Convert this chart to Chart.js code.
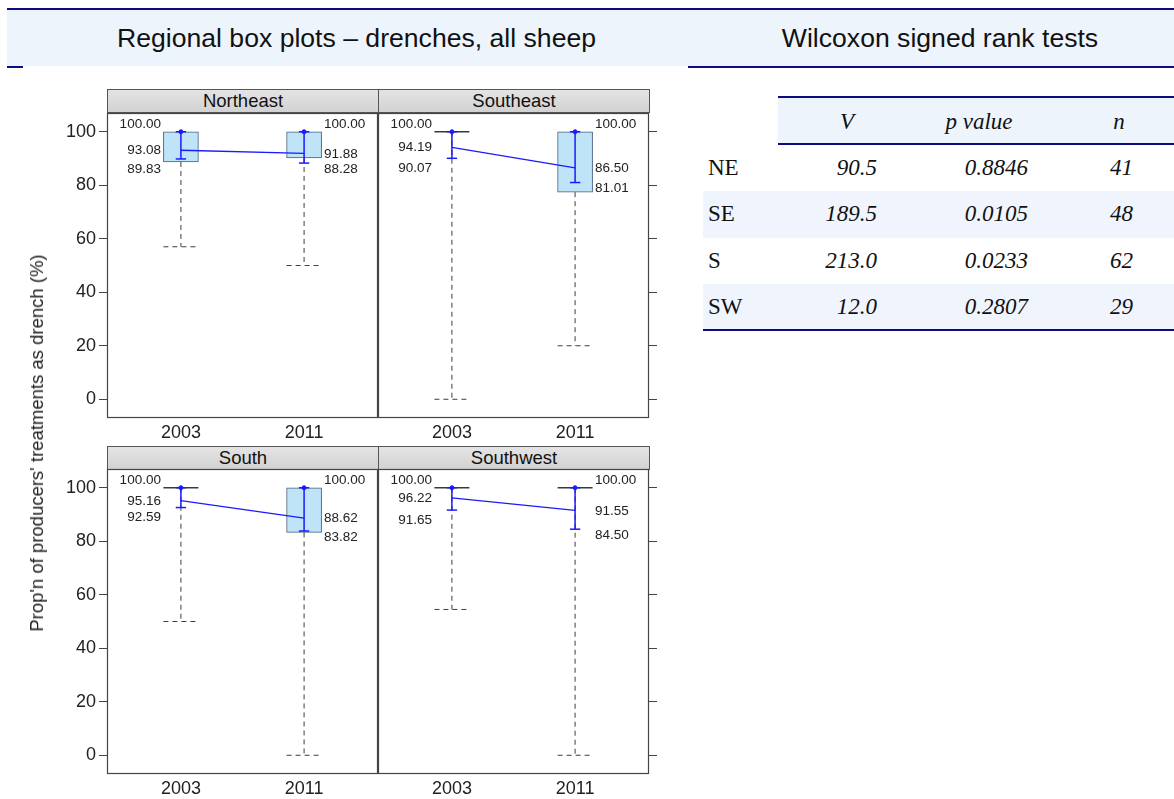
<!DOCTYPE html>
<html>
<head>
<meta charset="utf-8">
<script src="https://cdn.jsdelivr.net/npm/chart.js@4/dist/chart.umd.min.js"></script>
<style>
  html, body { margin: 0; padding: 0; background: #fff; }
  body { width: 1174px; height: 799px; position: relative; overflow: hidden;
         font-family: "Liberation Sans", Arial, sans-serif; color: #111; }
  .abs { position: absolute; }
  .band { position: absolute; top: 10px; height: 56px; background: #eef4fc; box-sizing: border-box;
          padding-left: 18px; font-size: 26.6px; line-height: 56px; text-align: center; color: #111; }
  .navy { position: absolute; background: #0c0c80; height: 2px; }
  .strip { position: absolute; height: 22px; border: 1px solid #555; box-sizing: content-box;
           background: linear-gradient(#e4e4e4, #d2d2d2); font-size: 18.5px; line-height: 22px;
           text-align: center; color: #111; }
  canvas { position: absolute; }
  .ylab { position: absolute; left: 37px; top: 443px; white-space: nowrap; font-size: 18.5px;
          color: #222; transform: translate(-50%, -50%) rotate(-90deg); }
  .tcell { position: absolute; white-space: nowrap; font-family: "Liberation Serif", "Times New Roman", serif;
           font-size: 23px; color: #111; }
  .it { font-style: italic; }
</style>
</head>
<body>

<div class="band" style="left:7px; width:681px;">Regional box plots – drenches, all sheep</div>
<div class="band" style="left:688px; width:486px;">Wilcoxon signed rank tests</div>
<div class="navy" style="left:7px; top:8px; width:1167px;"></div>
<div class="navy" style="left:7px; top:66px; width:16px;"></div>
<div class="navy" style="left:688px; top:66px; width:486px;"></div>

<div class="strip" style="left:107px; top:89px; width:270px;">Northeast</div>
<div class="strip" style="left:378px; top:89px; width:270px;">Southeast</div>
<div class="strip" style="left:107px; top:446px; width:270px;">South</div>
<div class="strip" style="left:378px; top:446px; width:270px;">Southwest</div>

<canvas id="p0" width="350" height="340" style="left:30px; top:110px;"></canvas>
<canvas id="p1" width="300" height="340" style="left:376px; top:110px;"></canvas>
<canvas id="p2" width="350" height="340" style="left:30px; top:466px;"></canvas>
<canvas id="p3" width="300" height="340" style="left:376px; top:466px;"></canvas>

<div class="ylab">Prop'n of producers' treatments as drench (%)</div>

<div id="table"></div>

<script>
// panels: Northeast, Southeast, South, Southwest; each inner pair is [2003, 2011]
const regions = ['Northeast', 'Southeast', 'South', 'Southwest'];
const years = ['2003', '2011'];

// box hinges and lower whisker ends (upper whisker ends at 100 everywhere)
const boxLow = [[88.7, 90.2], [100, 77.4], [100, 83.3], [100, 100]];
const boxHigh = [[100, 100], [100, 100], [100, 100], [100, 100]];
const whiskerLow = [[57, 50], [0, 20], [50, 0], [54.5, 0]];

// blue interval: upper end, centre, lower end
const upper = [[100.00, 100.00], [100.00, 100.00], [100.00, 100.00], [100.00, 100.00]];
const centre = [[93.08, 91.88], [94.19, 86.50], [95.16, 88.62], [96.22, 91.55]];
const lower = [[89.83, 88.28], [90.07, 81.01], [92.59, 83.82], [91.65, 84.50]];

// Wilcoxon signed rank tests
const testRegions = ['NE', 'SE', 'S', 'SW'];
const statV = [90.5, 189.5, 213.0, 12.0];
const pValues = [0.8846, 0.0105, 0.0233, 0.2807];
const nObs = [41, 48, 62, 29];

const yTicks = [0, 20, 40, 60, 80, 100];

Chart.defaults.font.family = '"Liberation Sans", Arial, sans-serif';
Chart.defaults.color = '#222';

const BLUE = '#1a1aff';
const boxHalf = 0.142;
const capHalf = 0.042;

function seg(x1, y1, x2, y2, color, width, dash, order) {
  return {
    type: 'line',
    data: [{x: x1, y: y1}, {x: x2, y: y2}],
    borderColor: color,
    borderWidth: width,
    borderDash: dash || [],
    pointRadius: 0,
    fill: false,
    order: order
  };
}

function noPad(s) {
  s.paddingLeft = 0;
  s.paddingRight = 0;
  s.paddingTop = 0;
  s.paddingBottom = 0;
}

const panelBox = {
  id: 'panelBox',
  afterDraw(chart) {
    const {ctx, chartArea: a} = chart;
    ctx.save();
    ctx.strokeStyle = '#444';
    ctx.lineWidth = 1.2;
    ctx.strokeRect(a.left + 0.5, a.top + 0.5, a.right - a.left - 1, a.bottom - a.top - 1);
    ctx.restore();
  }
};

const valueLabels = {
  id: 'valueLabels',
  afterDatasetsDraw(chart, args, opts) {
    const {ctx, scales: {x, y}} = chart;
    const r = opts.region;
    ctx.save();
    ctx.font = '13.5px "Liberation Sans", Arial, sans-serif';
    ctx.fillStyle = '#222';
    ctx.textBaseline = 'middle';
    [0, 1].forEach(i => {
      const first = i === 0;
      const px = x.getPixelForValue(i + 1);
      const tx = first ? px - 20 : px + 20;
      ctx.textAlign = first ? 'right' : 'left';
      ctx.fillText(upper[r][i].toFixed(2), tx, y.getPixelForValue(upper[r][i]) - 7);
      ctx.fillText(centre[r][i].toFixed(2), tx, y.getPixelForValue(centre[r][i]) + 0.5);
      ctx.fillText(lower[r][i].toFixed(2), tx, y.getPixelForValue(lower[r][i]) + (first ? 10 : 6));
    });
    ctx.restore();
  }
};

function makePanel(r) {
  const isLeft = r % 2 === 0;
  const datasets = [];

  // line joining the two centre values
  datasets.push({
    type: 'line',
    data: [{x: 1, y: centre[r][0]}, {x: 2, y: centre[r][1]}],
    borderColor: BLUE, borderWidth: 1.3, pointRadius: 0, fill: false, order: 0
  });

  const boxes = [];
  [0, 1].forEach(i => {
    const xv = i + 1;
    // blue interval with caps and a dot at the top
    datasets.push(seg(xv, lower[r][i], xv, upper[r][i], BLUE, 1.5, null, 1));
    datasets.push(seg(xv - capHalf, lower[r][i], xv + capHalf, lower[r][i], BLUE, 1.5, null, 1));
    datasets.push(seg(xv - capHalf, upper[r][i], xv + capHalf, upper[r][i], BLUE, 1.5, null, 1));
    datasets.push({
      type: 'line', data: [{x: xv, y: upper[r][i]}], pointRadius: 2,
      pointBackgroundColor: BLUE, pointBorderColor: BLUE, showLine: false, order: 1
    });

    // dashed whisker and its cap
    datasets.push(seg(xv, boxLow[r][i], xv, whiskerLow[r][i], '#3d3d3d', 1, [5, 4], 3));
    datasets.push(seg(xv - boxHalf, whiskerLow[r][i], xv + boxHalf, whiskerLow[r][i], '#3d3d3d', 1, [5, 4], 3));

    if (boxLow[r][i] === boxHigh[r][i]) {
      datasets.push(seg(xv - boxHalf, boxHigh[r][i], xv + boxHalf, boxHigh[r][i], '#3a3a3a', 1.3, null, 2));
    } else {
      boxes.push({x: xv, y: [boxLow[r][i], boxHigh[r][i]]});
    }
  });

  datasets.push({
    type: 'bar',
    data: boxes,
    backgroundColor: '#bfe4f8',
    borderColor: '#45617f',
    borderWidth: 1,
    borderSkipped: false,
    barThickness: 35,
    order: 5
  });

  return new Chart(document.getElementById('p' + r), {
    type: 'bar',
    data: {datasets},
    plugins: [panelBox, valueLabels],
    options: {
      responsive: false,
      animation: false,
      devicePixelRatio: 1,
      layout: {
        autoPadding: false,
        padding: isLeft ? {left: 0, right: 2, top: 3, bottom: 0} : {left: 2, right: 0, top: 3, bottom: 0}
      },
      plugins: {
        legend: {display: false},
        tooltip: {enabled: false},
        valueLabels: {region: r}
      },
      scales: {
        x: {
          type: 'linear', min: 0.4, max: 2.6, offset: false,
          grid: {display: false, drawTicks: false, offset: false},
          border: {display: false},
          afterBuildTicks: s => { s.ticks = [{value: 1}, {value: 2}]; },
          afterFit: s => { s.height = 32; noPad(s); },
          ticks: {
            autoSkip: false, maxRotation: 0, padding: 4,
            font: {size: 18}, color: '#222',
            callback: (v, i) => years[i]
          }
        },
        y: {
          type: 'linear', min: -7, max: 107,
          position: isLeft ? 'left' : 'right',
          grid: {drawOnChartArea: false, drawTicks: true, tickLength: 8, color: '#444'},
          border: {display: false},
          afterBuildTicks: s => { s.ticks = yTicks.map(v => ({value: v})); },
          afterFit: s => { s.width = isLeft ? 77 : 27; noPad(s); },
          ticks: {display: isLeft, padding: 3, font: {size: 18}, color: '#222'}
        }
      }
    }
  });
}

regions.forEach((name, r) => makePanel(r));

// test table on the right
const table = document.getElementById('table');
function box(style) {
  const d = document.createElement('div');
  d.className = 'abs';
  Object.assign(d.style, style);
  table.appendChild(d);
}
function cell(text, x, y, align, italic) {
  const d = document.createElement('div');
  d.className = 'tcell' + (italic ? ' it' : '');
  d.textContent = text;
  const tx = align === 'right' ? '-100%' : align === 'center' ? '-50%' : '0';
  d.style.left = x + 'px';
  d.style.top = y + 'px';
  d.style.transform = 'translate(' + tx + ', -50%)';
  table.appendChild(d);
}

box({left: '778px', top: '97px', width: '396px', height: '47px', background: '#eef4fc'});
box({left: '778px', top: '96px', width: '396px', height: '2px', background: '#0c0c80'});
box({left: '778px', top: '143px', width: '396px', height: '2px', background: '#0c0c80'});
cell('V', 847, 122, 'center', true);
cell('p value', 979, 122, 'center', true);
cell('n', 1119, 122, 'center', true);

const rowTop = 145, rowH = 46.3;
testRegions.forEach((lab, i) => {
  const yc = rowTop + rowH * i + rowH / 2;
  if (i % 2 === 1) {
    box({left: '703px', top: (rowTop + rowH * i) + 'px', width: '471px', height: rowH + 'px', background: '#f0f5fd'});
  }
  cell(lab, 708, yc, 'left', false);
  cell(statV[i].toFixed(1), 877, yc, 'right', true);
  cell(pValues[i].toFixed(4), 1028, yc, 'right', true);
  cell(String(nObs[i]), 1133, yc, 'right', true);
});
box({left: '703px', top: (rowTop + rowH * 4 - 1) + 'px', width: '471px', height: '2px', background: '#0c0c80'});
</script>
</body>
</html>
